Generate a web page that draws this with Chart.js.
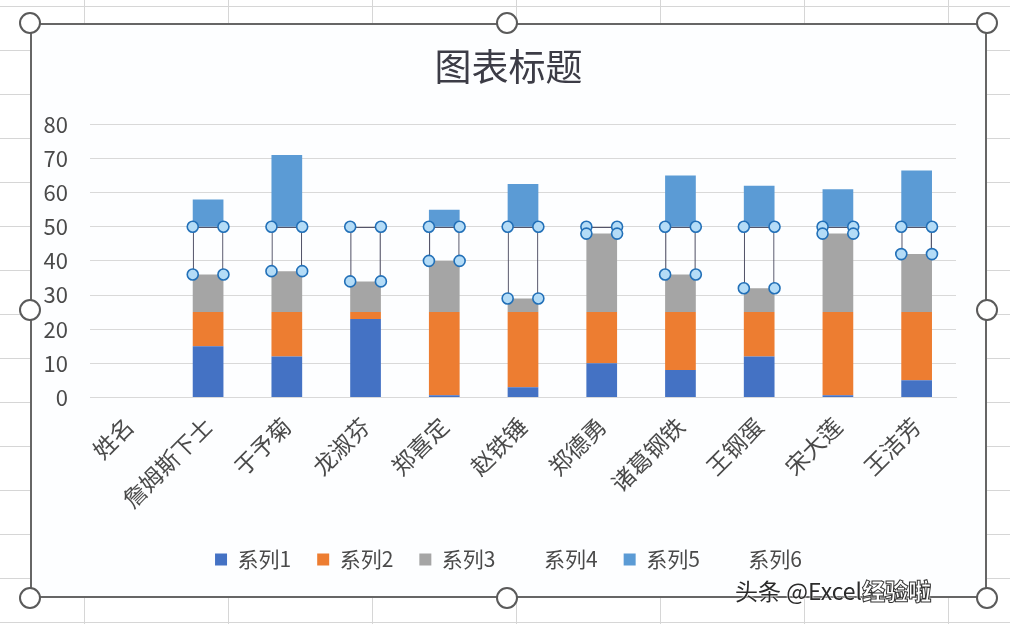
<!DOCTYPE html>
<html>
<head>
<meta charset="utf-8">
<script src="https://cdn.jsdelivr.net/npm/chart.js@4.4.0/dist/chart.umd.min.js"></script>
<style>
  html, body { margin: 0; padding: 0; }
  body {
    width: 1010px; height: 624px; position: relative; overflow: hidden;
    background-color: #fff;
    background-image:
      linear-gradient(to bottom, #d6d6d6 1px, transparent 1px),
      linear-gradient(to right, #d6d6d6 1px, transparent 1px);
    background-size: 1010px 44px, 144px 624px;
    background-position: 0 6px, 84px 0;
    font-family: "Noto Sans CJK SC", "Noto Sans", sans-serif;
  }
  #frame {
    position: absolute; left: 30px; top: 23px; width: 957px; height: 575px;
    box-sizing: border-box; border: 2px solid #666; background: #fdfeff;
  }
  #frame canvas { display: block; }
  .handle {
    position: absolute; width: 18px; height: 18px; margin: -11px 0 0 -11px;
    border: 2px solid #5a5a5a; border-radius: 50%; background: #fff;
  }
  #mark {
    position: absolute; left: 735px; top: 573px; font-size: 23px; color: #2b2b2b;
    text-shadow: 0 0 2px #fff, 0 0 2px #fff;
  }
  #mark b { color: #fff; font-weight: 900; -webkit-text-stroke: 1px #333; }
</style>
</head>
<body>
<div id="frame"><canvas id="grafico" width="953" height="571"></canvas></div>
<div class="handle" style="left:30px;top:23px"></div>
<div class="handle" style="left:507px;top:23px"></div>
<div class="handle" style="left:987px;top:23px"></div>
<div class="handle" style="left:30px;top:310px"></div>
<div class="handle" style="left:987px;top:310px"></div>
<div class="handle" style="left:30px;top:598px"></div>
<div class="handle" style="left:507px;top:598px"></div>
<div class="handle" style="left:987px;top:598px"></div>
<div id="mark">头条 @Excel<b>经验啦</b></div>

<script>
// Datos
var categorias = ['姓名', '詹姆斯下士', '于予菊', '龙淑芬', '郑喜定', '赵铁锤', '郑德勇', '诸葛钢铁', '王钢蛋', '宋大莲', '王洁芳'];
var serie1 = [null, 15, 12, 23, 0.6, 3, 10, 8, 12, 0.6, 5];
var serie2 = [null, 10, 13, 2, 24.4, 22, 15, 17, 13, 24.4, 20];
var serie3 = [null, 11, 12, 9, 15, 4, 23, 11, 7, 23, 17];
var serie4 = [null, 14, 13, 16, 10, 21, 2, 14, 18, 2, 8];
var serie5 = [null, 8, 21, 0, 5, 12.5, 0, 15, 12, 11, 16.5];
var serie6 = [null, 0, 0, 0, 0, 0, 0, 0, 0, 0, 0];
var ticksY = [0, 10, 20, 30, 40, 50, 60, 70, 80];

var colores = ['#4472C4', '#ED7D31', '#A5A5A5', 'rgba(0,0,0,0)', '#5B9BD5', 'rgba(0,0,0,0)'];
var texto = '#4a4a4a';

// Puntos de selección sobre la serie 4
var marcadores = {
    id: 'marcadores',
    afterDatasetsDraw: function(chart) {
        var ctx = chart.ctx;
        var meta = chart.getDatasetMeta(3);
        ctx.save();
        meta.data.forEach(function(bar, i) {
            if (serie4[i] === null) return;
            var p = bar.getProps(['x', 'y', 'base', 'width'], true);
            var l = p.x - p.width / 2, r = p.x + p.width / 2;
            [[l, p.y], [r, p.y], [l, p.base], [r, p.base]].forEach(function(c) {
                ctx.beginPath();
                ctx.arc(c[0], c[1], 5.5, 0, Math.PI * 2);
                ctx.fillStyle = '#b4dcf7';
                ctx.fill();
                ctx.lineWidth = 1.6;
                ctx.strokeStyle = '#2270b8';
                ctx.stroke();
            });
        });
        ctx.restore();
    }
};

var datos = [serie1, serie2, serie3, serie4, serie5, serie6];

var ctx = document.getElementById('grafico').getContext('2d');
window.grafico = new Chart(ctx, {
    type: 'bar',
    data: {
        labels: categorias,
        datasets: datos.map(function(d, i) {
            return {
                label: '系列' + (i + 1),
                data: d,
                backgroundColor: colores[i],
                borderColor: i === 3 ? '#55556a' : 'rgba(0,0,0,0)',
                borderWidth: i === 3 ? 1.2 : 0,
                barPercentage: 0.39,
                categoryPercentage: 1
            };
        })
    },
    options: {
        responsive: false,
        animation: false,
        layout: { padding: { left: 0, right: 0, top: 0, bottom: 16 } },
        plugins: {
            tooltip: { enabled: false },
            title: {
                display: true,
                text: '图表标题',
                color: '#3c3c46',
                font: { size: 37, weight: 'normal', family: '"Noto Sans CJK SC"' },
                padding: { top: 20, bottom: 35 }
            },
            legend: {
                position: 'bottom',
                labels: {
                    color: texto,
                    font: { size: 21, family: '"Noto Sans CJK SC"' },
                    boxWidth: 12,
                    boxHeight: 12,
                    padding: 26,
                    generateLabels: function(chart) {
                        return chart.data.datasets.map(function(ds, i) {
                            return {
                                text: ds.label,
                                fillStyle: colores[i],
                                strokeStyle: 'rgba(0,0,0,0)',
                                lineWidth: 0,
                                fontColor: texto,
                                datasetIndex: i
                            };
                        });
                    }
                }
            }
        },
        scales: {
            x: {
                stacked: true,
                grid: { display: false, drawTicks: false },
                border: { color: '#d9d9d9' },
                ticks: {
                    color: texto,
                    autoSkip: false,
                    maxRotation: 45,
                    minRotation: 45,
                    padding: 15,
                    font: { size: 23, family: '"Noto Sans CJK SC"' }
                },
                afterFit: function(scale) { scale.height = 125.6; }
            },
            y: {
                stacked: true,
                min: 0,
                max: 80,
                afterBuildTicks: function(scale) {
                    scale.ticks = ticksY.map(function(v) { return { value: v }; });
                },
                grid: { color: '#d9d9d9', drawTicks: false },
                border: { display: false },
                ticks: {
                    color: texto,
                    padding: 22,
                    font: { size: 22, family: '"Noto Sans CJK SC"' }
                },
                afterFit: function(scale) { scale.width = 58; }
            },
            // margen derecho del área de trazado
            derecha: {
                position: 'right',
                min: 0,
                max: 80,
                grid: { display: false, drawTicks: false },
                border: { display: false },
                ticks: { display: false },
                afterFit: function(scale) { scale.width = 29; }
            }
        }
    },
    plugins: [marcadores]
});
</script>
</body>
</html>
